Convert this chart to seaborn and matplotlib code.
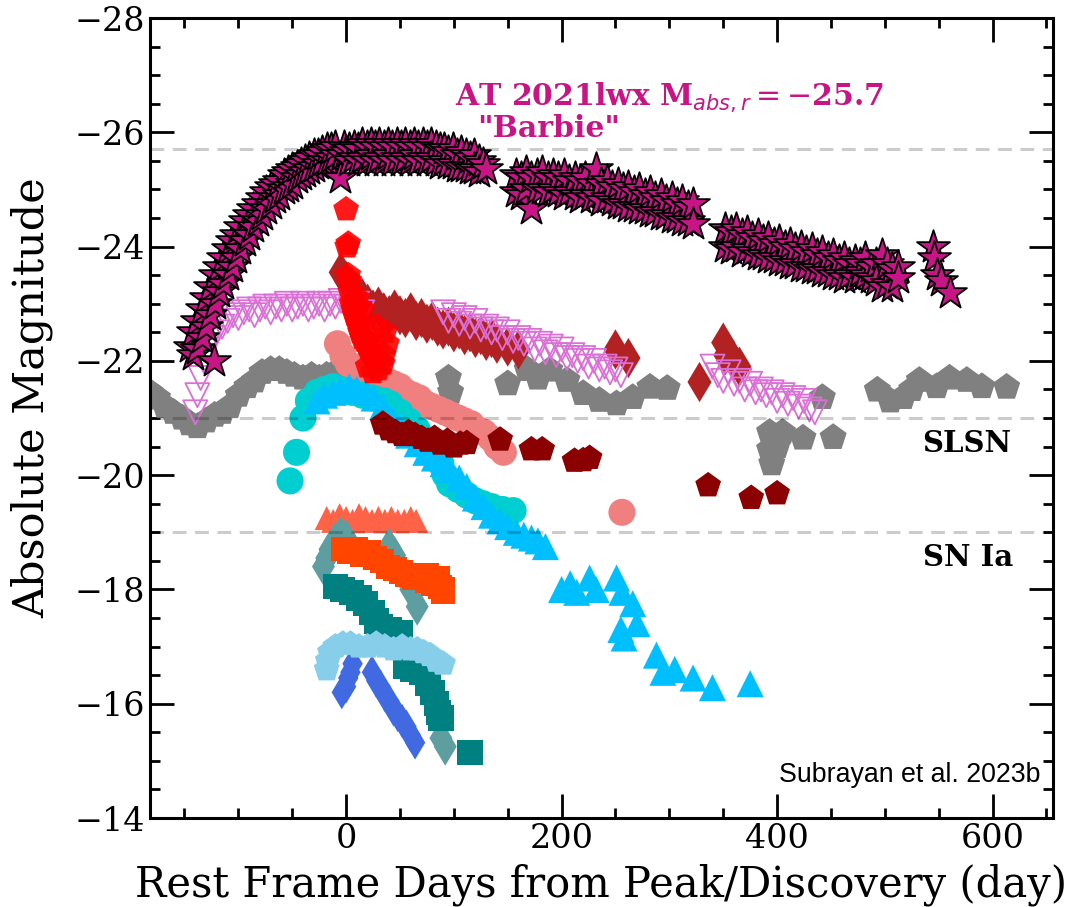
import matplotlib
matplotlib.use("Agg")
import matplotlib.pyplot as plt
from matplotlib.ticker import MultipleLocator
import seaborn as sns

# ---------------- light curves (rest-frame day, absolute magnitude) ----------------
# AT 2021lwx "Barbie": rise, peak and three late-time segments
barbie_rise_day = [-145, -142, -142, -138, -138, -134, -134, -130, -130, -126, -126, -123, -122,
                   -122, -118, -118, -114, -114, -110, -110, -106, -106, -102, -102, -98, -98,
                   -94, -94, -90, -90, -86, -86, -82, -82, -78, -78, -74, -74, -70, -70, -66, -66,
                   -62, -62, -58, -58, -54, -54, -50, -50, -46, -46, -42, -42, -38, -38, -34, -34,
                   -30, -30, -26, -26, -22, -22, -18, -18, -14, -14, -10, -10, -6, -4, -2, 0]
barbie_rise_mag = [-22.25, -22.1, -22.5, -22.2, -22.7, -22.4, -22.9, -22.6, -23.1, -22.8, -23.3,
                   -22.0, -23.0, -23.5, -23.2, -23.65, -23.35, -23.8, -23.5, -23.95, -23.65,
                   -24.1, -23.8, -24.2, -23.95, -24.35, -24.1, -24.45, -24.2, -24.55, -24.35,
                   -24.65, -24.45, -24.75, -24.55, -24.85, -24.65, -24.95, -24.75, -25.05, -24.85,
                   -25.1, -24.9, -25.15, -25.0, -25.25, -25.05, -25.3, -25.1, -25.35, -25.2, -25.4,
                   -25.25, -25.45, -25.3, -25.5, -25.35, -25.55, -25.4, -25.6, -25.45, -25.6,
                   -25.5, -25.65, -25.5, -25.7, -25.55, -25.7, -25.6, -25.75, -25.2, -25.6,
                   -25.75, -25.65]

barbie_peak_day = [3, 3, 7, 7, 11, 11, 15, 15, 19, 19, 23, 23, 27, 27, 31, 31, 35, 35, 39, 39,
                   43, 43, 47, 47, 51, 51, 55, 55, 59, 59, 63, 63, 67, 67, 71, 71, 75, 75, 79, 79,
                   83, 83, 87, 87, 91, 91, 95, 95, 99, 99, 103, 103, 107, 107, 111, 111, 115, 115,
                   119, 119, 123, 123, 127, 130]
barbie_peak_mag = [-25.7, -25.5, -25.75, -25.55, -25.7, -25.5, -25.8, -25.55, -25.75, -25.5,
                   -25.8, -25.6, -25.75, -25.5, -25.8, -25.55, -25.75, -25.5, -25.8, -25.6,
                   -25.75, -25.5, -25.8, -25.55, -25.75, -25.5, -25.8, -25.55, -25.75, -25.5,
                   -25.8, -25.6, -25.75, -25.5, -25.8, -25.55, -25.75, -25.5, -25.8, -25.55,
                   -25.75, -25.5, -25.7, -25.45, -25.7, -25.5, -25.65, -25.45, -25.7, -25.45,
                   -25.6, -25.4, -25.65, -25.4, -25.6, -25.4, -25.55, -25.35, -25.6, -25.35,
                   -25.5, -25.3, -25.45, -25.35]

barbie_late1_day = [158, 158, 162, 162, 167, 167, 172, 172, 177, 177, 182, 182, 187, 187, 192,
                    192, 197, 197, 202, 202, 207, 207, 212, 212, 217, 217, 222, 222, 227, 227,
                    232, 232, 237, 237, 242, 242, 247, 247, 252, 252, 257, 257, 262, 262, 267,
                    267, 272, 272, 277, 277, 282, 282, 287, 287, 292, 292, 297, 297, 302, 302,
                    307, 307, 312, 312, 317, 317, 322, 322]
barbie_late1_mag = [-25.25, -24.95, -25.2, -24.9, -25.3, -25.0, -25.2, -24.65, -25.25, -25.0,
                    -25.3, -25.0, -25.2, -24.95, -25.25, -25.0, -25.2, -24.95, -25.25, -24.9,
                    -25.15, -24.95, -25.2, -24.9, -25.15, -24.85, -25.2, -24.9, -25.1, -24.85,
                    -25.35, -24.9, -25.1, -24.8, -25.15, -24.85, -25.05, -24.8, -25.1, -24.75,
                    -25.0, -24.75, -25.05, -24.7, -24.95, -24.7, -25.0, -24.65, -24.9, -24.65,
                    -24.95, -24.6, -24.85, -24.6, -24.9, -24.55, -24.8, -24.55, -24.85, -24.5,
                    -24.75, -24.5, -24.8, -24.45, -24.7, -24.45, -24.75, -24.4]

barbie_late2_day = [352, 352, 357, 357, 362, 362, 367, 367, 372, 372, 377, 377, 382, 382, 387,
                    387, 392, 392, 397, 397, 402, 402, 407, 407, 412, 412, 417, 417, 422, 422,
                    427, 427, 432, 432, 437, 437, 442, 442, 447, 447, 452, 452, 457, 457, 462,
                    462, 467, 467, 472, 472, 477, 477, 482, 482, 487, 487, 492, 492, 497, 497,
                    502, 502, 507, 507, 512, 512]
barbie_late2_mag = [-24.3, -24.0, -24.25, -23.95, -24.3, -24.0, -24.2, -23.9, -24.25, -23.95,
                    -24.15, -23.9, -24.2, -23.85, -24.1, -23.85, -24.15, -23.8, -24.05, -23.8,
                    -24.1, -23.75, -24.0, -23.75, -24.05, -23.7, -23.95, -23.7, -24.0, -23.65,
                    -23.9, -23.65, -23.95, -23.6, -23.85, -23.6, -23.9, -23.55, -23.8, -23.55,
                    -23.85, -23.5, -23.75, -23.5, -23.8, -23.45, -23.7, -23.5, -23.75, -23.45,
                    -23.7, -23.55, -23.8, -23.5, -23.65, -23.45, -23.7, -23.4, -23.85, -23.3,
                    -23.7, -23.35, -23.6, -23.3, -23.65, -23.45]

barbie_late3_day = [545, 546, 548, 552, 560]
barbie_late3_mag = [-24.0, -23.8, -23.5, -23.4, -23.18]

# open down-triangles
orchid_day = [-140, -138, -135, -132, -128, -125, -120, -115, -110, -105, -100, -95, -90, -85,
              -80, -75, -70, -65, -60, -55, -50, -45, -40, -35, -30, -25, -20, -15, -10, -5, 0,
              5, 10, 15,
              90, 95, 100, 105, 110, 115, 120, 125, 130, 135, 140, 145, 150, 155, 160, 165, 170,
              175, 180, 185, 190, 195, 200, 205, 210, 215, 220, 225, 230, 235, 240, 245, 250, 255,
              340, 345, 350, 355, 360, 365, 370, 375, 380, 385, 390, 395, 400, 405, 410, 415,
              420, 425, 430, 435]
orchid_mag = [-21.1, -21.4, -21.7, -22.0, -22.2, -22.4, -22.5, -22.6, -22.7, -22.8, -22.75,
              -22.85, -22.9, -22.8, -22.9, -22.95, -22.85, -22.95, -22.9, -23.0, -22.9, -22.95,
              -23.0, -22.9, -22.95, -23.0, -22.9, -23.0, -22.95, -23.05, -22.95, -22.9, -23.0,
              -22.85,
              -22.85, -22.7, -22.8, -22.65, -22.75, -22.6, -22.7, -22.55, -22.6, -22.5, -22.55,
              -22.4, -22.5, -22.35, -22.4, -22.3, -22.35, -22.2, -22.3, -22.15, -22.25, -22.1,
              -22.2, -22.05, -22.1, -22.0, -22.05, -21.9, -22.0, -21.85, -21.9, -21.8, -21.85,
              -21.75,
              -21.9, -21.75, -21.65, -21.8, -21.6, -21.65, -21.5, -21.6, -21.45, -21.5, -21.4,
              -21.45, -21.3, -21.4, -21.25, -21.35, -21.2, -21.3, -21.15, -21.1]

gray_day = [-182, -175, -168, -160, -152, -145, -138, -130, -122, -115, -108, -100, -92, -85,
            -78, -70, -62, -55, -48, -40, -32, -25, -18, -10, -3, 5, 15, 25,
            95, 97, 150, 168, 178, 189, 205, 220, 235, 251, 266, 282, 298,
            393, 393, 395, 400, 405, 424, 442, 452, 493, 505, 517, 525, 532, 548, 560, 576,
            590, 613]
gray_mag = [-21.45, -21.35, -21.2, -21.1, -21.0, -20.9, -20.85, -20.95, -21.05, -21.1, -21.2,
            -21.4, -21.55, -21.65, -21.8, -21.85, -21.85, -21.8, -21.75, -21.7, -21.75, -21.7,
            -21.75, -21.8, -21.85, -21.8, -21.75, -21.6,
            -21.7, -21.45, -21.6, -21.85, -21.7, -21.84, -21.66, -21.43, -21.31, -21.25,
            -21.36, -21.54, -21.52,
            -20.75, -20.45, -20.2, -20.5, -20.75, -20.65, -21.36, -20.66, -21.49, -21.3, -21.36,
            -21.5, -21.66, -21.55, -21.7, -21.66, -21.55, -21.54]

red_day = [0, 1, 2, 2, 3, 4, 5, 7, 8, 10, 10, 12, 13, 15, 15, 17, 19, 20, 21, 23, 25, 25, 28,
           28, 30, 31, 34, 35, 36, 38]
red_mag = [-24.65, -24.0, -24.05, -23.5, -23.4, -23.2, -23.0, -22.9, -22.8, -22.7, -23.1, -22.6,
           -22.5, -22.4, -22.9, -22.35, -22.3, -21.9, -22.2, -22.15, -22.1, -21.8, -22.05, -22.6,
           -21.85, -22.0, -21.95, -22.1, -22.5, -22.3]

firebrick_day = [-5, 0, 5, 10, 15, 20, 25, 30, 35, 40, 45, 50, 55, 60, 65, 70, 75, 80, 85, 90,
                 95, 100, 105, 110, 115, 120, 125, 130, 135, 140, 150, 160,
                 250, 262, 328, 350, 352, 360, 365]
firebrick_mag = [-23.55, -23.4, -23.3, -23.2, -23.1, -23.0, -22.9, -22.95, -22.85, -22.8, -22.9,
                 -22.8, -22.75, -22.85, -22.7, -22.75, -22.65, -22.7, -22.6, -22.55, -22.6, -22.5,
                 -22.55, -22.45, -22.5, -22.4, -22.45, -22.35, -22.4, -22.3, -22.25, -22.2,
                 -22.2, -22.05, -21.63, -22.32, -22.1, -22.0, -21.9]

coral_day = [-8, -3, 2, 8, 14, 20, 26, 32, 38, 44, 50, 56, 62, 68, 74, 80, 86, 92, 98, 104, 110,
             116, 122, 128, 134, 140, 146, 256]
coral_mag = [-22.3, -22.1, -21.95, -21.85, -21.9, -21.8, -21.75, -21.7, -21.65, -21.6, -21.55,
             -21.45, -21.4, -21.35, -21.25, -21.2, -21.15, -21.1, -21.05, -21.0, -20.95, -20.9,
             -20.8, -20.75, -20.65, -20.5, -20.4, -19.35]

darkred_day = [34, 40, 46, 52, 58, 64, 70, 76, 82, 88, 94, 100, 106, 112, 143, 172, 182, 212,
               220, 226, 336, 376, 400]
darkred_mag = [-20.9, -20.8, -20.75, -20.7, -20.75, -20.7, -20.65, -20.6, -20.65, -20.55, -20.6,
               -20.5, -20.55, -20.56, -20.62, -20.45, -20.45, -20.25, -20.26, -20.3, -19.82,
               -19.6, -19.68]

turquoise_day = [-52, -46, -40, -35, -27, -20, -12, -5, 5, 15, 25, 35, 41, 50, 58, 66, 75, 82,
                 88, 92, 96, 104, 112, 120, 127, 135, 145, 155]
turquoise_mag = [-19.9, -20.4, -21.0, -21.3, -21.45, -21.5, -21.55, -21.5, -21.45, -21.4, -21.35,
                 -21.3, -21.25, -21.1, -20.95, -20.8, -20.6, -20.4, -20.2, -20.0, -19.85, -19.75,
                 -19.65, -19.55, -19.5, -19.45, -19.4, -19.38]

skyblue_tri_day = [-27, -20, -12, -5, 3, 10, 19, 26, 34, 42, 50, 58, 66, 74, 82, 90, 96, 105,
                   112, 120, 128, 135, 143, 150, 158, 165, 172, 178, 185,
                   200, 208, 214, 226, 232, 251, 256, 266, 255, 258, 270, 288, 294, 305, 322,
                   340, 375]
skyblue_tri_mag = [-21.3, -21.4, -21.45, -21.5, -21.55, -21.5, -21.45, -21.35, -21.2, -21.0,
                   -20.85, -20.7, -20.55, -20.4, -20.3, -20.2, -20.1, -19.95, -19.8, -19.6, -19.45,
                   -19.3, -19.2, -19.1, -19.0, -18.95, -18.9, -18.85, -18.75,
                   -18.0, -18.1, -17.95, -18.2, -18.0, -18.2, -17.95, -17.75, -17.3, -17.15, -17.4,
                   -16.85, -16.55, -16.6, -16.45, -16.28, -16.35]

tomato_day = [-18, -12, -6, 0, 6, 12, 18, 24, 30, 36, 42, 48, 54, 60, 65]
tomato_mag = [-19.25, -19.2, -19.3, -19.25, -19.2, -19.3, -19.25, -19.2, -19.25, -19.2, -19.25,
              -19.2, -19.2, -19.25, -19.2]

cadet_day = [-21, -18, -15, -10, -5, 0, 40, 45, 50, 55, 60, 66, 88, 92]
cadet_mag = [-18.4, -18.55, -18.7, -18.85, -18.95, -18.9, -18.75, -18.6, -18.4, -18.2, -18.0,
             -17.7, -15.4, -15.25]

teal_day = [-10, -3, 5, 12, 18, 24, 28, 32, 40, 50, 55, 62, 70, 76, 80, 84, 86, 88, 115]
teal_mag = [-18.05, -18.0, -17.95, -17.85, -17.75, -17.6, -17.45, -17.35, -17.3, -17.25, -16.65,
            -16.6, -16.55, -16.35, -16.2, -16.0, -15.85, -15.75, -15.15]

orangered_day = [-3, 3, 9, 15, 21, 27, 33, 39, 45, 51, 57, 63, 69, 75, 75, 81, 85, 87, 90, 90]
orangered_mag = [-18.7, -18.65, -18.7, -18.6, -18.65, -18.55, -18.5, -18.4, -18.35, -18.3,
                 -18.25, -18.2, -18.2, -18.15, -18.25, -18.1, -18.2, -18.05, -18.0, -17.95]

royal_day = [-4, 0, 2, 4, 6, 24, 28, 32, 36, 40, 44, 48, 52, 56, 60, 64]
royal_mag = [-16.2, -16.3, -16.45, -16.55, -16.7, -16.55, -16.4, -16.3, -16.15, -16.05, -15.9,
             -15.8, -15.7, -15.6, -15.45, -15.32]

lightblue_day = [-18, -17, -15, -10, -3, 4, 12, 20, 28, 36, 44, 52, 60, 66, 72, 78, 84, 90]
lightblue_mag = [-16.6, -16.75, -16.9, -17.0, -17.05, -17.05, -17.0, -17.0, -17.05, -17.0,
                 -16.95, -17.0, -16.95, -16.95, -16.9, -16.85, -16.75, -16.7]

# reference magnitudes
ref_levels = [-25.7, -21.0, -19.0]
ref_names = ["SLSN", "SN Ia"]

# ---------------- figure ----------------
sns.set_theme(style="white")
plt.rcParams["font.family"] = ["DejaVu Serif"]
plt.rcParams["axes.unicode_minus"] = True
plt.rcParams["text.color"] = "black"
plt.rcParams["axes.labelcolor"] = "black"

fig = plt.figure(figsize=(10.69, 9.07), dpi=100)
ax = fig.add_axes([0.1403, 0.0981, 0.8447, 0.882])


def pts(x, y, marker, color, s, **kw):
    sns.scatterplot(x=x, y=y, ax=ax, marker=marker, color=color, s=s,
                    edgecolor=kw.pop("edgecolor", "none"), linewidth=kw.pop("linewidth", 0),
                    legend=False, **kw)


# lower-luminosity objects
pts(tomato_day, tomato_mag, "^", "tomato", 300)
pts(cadet_day, cadet_mag, "d", "cadetblue", 380)
pts(teal_day, teal_mag, "s", "teal", 330)
pts(orangered_day, orangered_mag, "s", "orangered", 300)
pts(royal_day, royal_mag, "d", "royalblue", 300)
pts(lightblue_day, lightblue_mag, "p", "skyblue", 380)

# luminous objects
pts(gray_day, gray_mag, "p", "gray", 420)
pts(coral_day, coral_mag, "o", "lightcoral", 380)
pts(turquoise_day, turquoise_mag, "o", "darkturquoise", 380)
pts(skyblue_tri_day, skyblue_tri_mag, "^", "deepskyblue", 380)
pts(darkred_day, darkred_mag, "p", "darkred", 380)
pts(firebrick_day, firebrick_mag, "d", "firebrick", 420)
sns.scatterplot(x=orchid_day, y=orchid_mag, ax=ax, marker="v", s=300, facecolors="none",
                edgecolor="orchid", linewidth=1.3, legend=False)
pts(red_day, red_mag, "p", "red", 380, alpha=0.9)

for lvl in ref_levels:
    ax.axhline(lvl, color="black", alpha=0.2, lw=2.2, ls=(0, (4.5, 2.8)), zorder=3)

barbie_day = (barbie_rise_day + barbie_peak_day + barbie_late1_day + barbie_late2_day
              + barbie_late3_day)
barbie_mag = (barbie_rise_mag + barbie_peak_mag + barbie_late1_mag + barbie_late2_mag
              + barbie_late3_mag)
sns.scatterplot(x=barbie_day, y=barbie_mag, ax=ax, marker="*", s=620,
                color="mediumvioletred", edgecolor="black", linewidth=1.3,
                legend=False, zorder=4)

# annotations
ax.text(101, -26.62, r"AT 2021lwx M$_{abs,r} = -$25.7", color="mediumvioletred",
        fontsize=21.5, fontweight="bold", va="center", ha="left")
ax.text(122, -26.07, '"Barbie"', color="mediumvioletred", fontsize=21.5,
        fontweight="bold", va="center", ha="left")
ax.text(535, -20.55, ref_names[0], fontsize=21, fontweight="bold", va="center", ha="left",
        color="black")
ax.text(535, -18.56, ref_names[1], fontsize=21, fontweight="bold", va="center", ha="left",
        color="black")
ax.text(644, -14.75, "Subrayan et al. 2023b", fontsize=19.3, family="Liberation Sans",
        va="center", ha="right", color="black")

# axes
ax.set_xlim(-182, 656)
ax.set_ylim(-14, -28)
ax.xaxis.set_major_locator(MultipleLocator(200))
ax.xaxis.set_minor_locator(MultipleLocator(50))
ax.yaxis.set_major_locator(MultipleLocator(2))
ax.yaxis.set_minor_locator(MultipleLocator(0.5))
ax.tick_params(which="both", direction="in", top=True, right=True, bottom=True, left=True,
               width=2, colors="black", labelsize=24)
ax.tick_params(which="major", length=17)
ax.tick_params(which="minor", length=7)
for sp in ax.spines.values():
    sp.set_linewidth(2.2)
    sp.set_color("black")

ax.set_xlabel("Rest Frame Days from Peak/Discovery (day)", fontsize=30, labelpad=6,
              color="black")
ax.set_ylabel("Absolute Magnitude", fontsize=31, color="black")
ax.yaxis.set_label_coords(-0.107, 0.525)

fig.savefig("out.png", dpi=100)
